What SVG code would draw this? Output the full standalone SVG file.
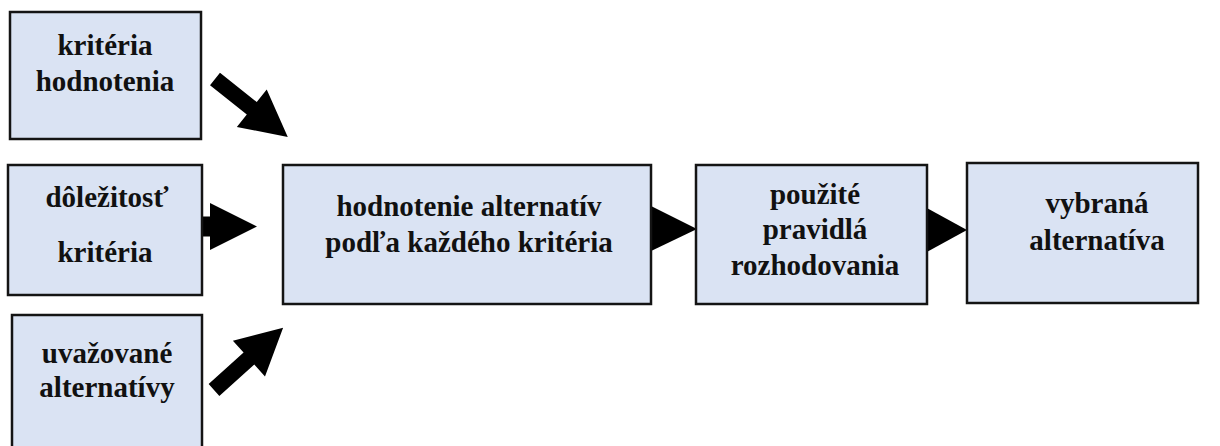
<svg xmlns="http://www.w3.org/2000/svg" width="1220" height="446" viewBox="0 0 1220 446">
<style>
.box{fill:#dae3f3;stroke:#141414;stroke-width:2.5}
.t{font-family:'Liberation Serif','DejaVu Serif',serif;font-weight:700;font-size:29px;fill:#111;text-anchor:middle}
.arr{fill:#000}
</style>
<rect width="1220" height="446" fill="#fff"/>
<g id="connectors">
<polygon class="arr" transform="translate(215,79) rotate(38.5)" points="0,-8 47,-8 47,-24 93,0 47,24 47,8 0,8"/>
<polygon class="arr" points="200,216.5 210,216.5 210,203 257,226.5 210,250 210,236.5 200,236.5"/>
<polygon class="arr" transform="translate(214,390) rotate(-42)" points="0,-8 47,-8 47,-24 93,0 47,24 47,8 0,8"/>
<polygon class="arr" points="649,205 697,229 649,252"/>
<polygon class="arr" points="925,207 967,230 925,253"/>
</g>
<g id="n-kriteria-hodnotenia">
<rect class="box" x="10" y="12" width="191" height="127"/>
<text class="t" x="105" y="55" font-family="Liberation Serif">kritéria</text>
<text class="t" x="105" y="91" font-family="Liberation Serif">hodnotenia</text>
</g>
<g id="n-dolezitost">
<rect class="box" x="8" y="165" width="194" height="130"/>
<text class="t" x="107" y="207">dôležitosť</text>
<text class="t" x="105" y="262">kritéria</text>
</g>
<g id="n-uvazovane">
<rect class="box" x="12" y="315" width="190" height="140"/>
<text class="t" x="107" y="363">uvažované</text>
<text class="t" x="107" y="397">alternatívy</text>
</g>
<g id="n-hodnotenie">
<rect class="box" x="283" y="165" width="368" height="139"/>
<text class="t" x="469" y="216">hodnotenie alternatív</text>
<text class="t" x="469" y="252">podľa každého kritéria</text>
</g>
<g id="n-pouzite">
<rect class="box" x="696" y="165" width="231" height="139"/>
<text class="t" x="815" y="204">použité</text>
<text class="t" x="815" y="239">pravidlá</text>
<text class="t" x="815" y="275">rozhodovania</text>
</g>
<g id="n-vybrana">
<rect class="box" x="967" y="163" width="231" height="140"/>
<text class="t" x="1097" y="213">vybraná</text>
<text class="t" x="1097" y="250">alternatíva</text>
</g>
</svg>
